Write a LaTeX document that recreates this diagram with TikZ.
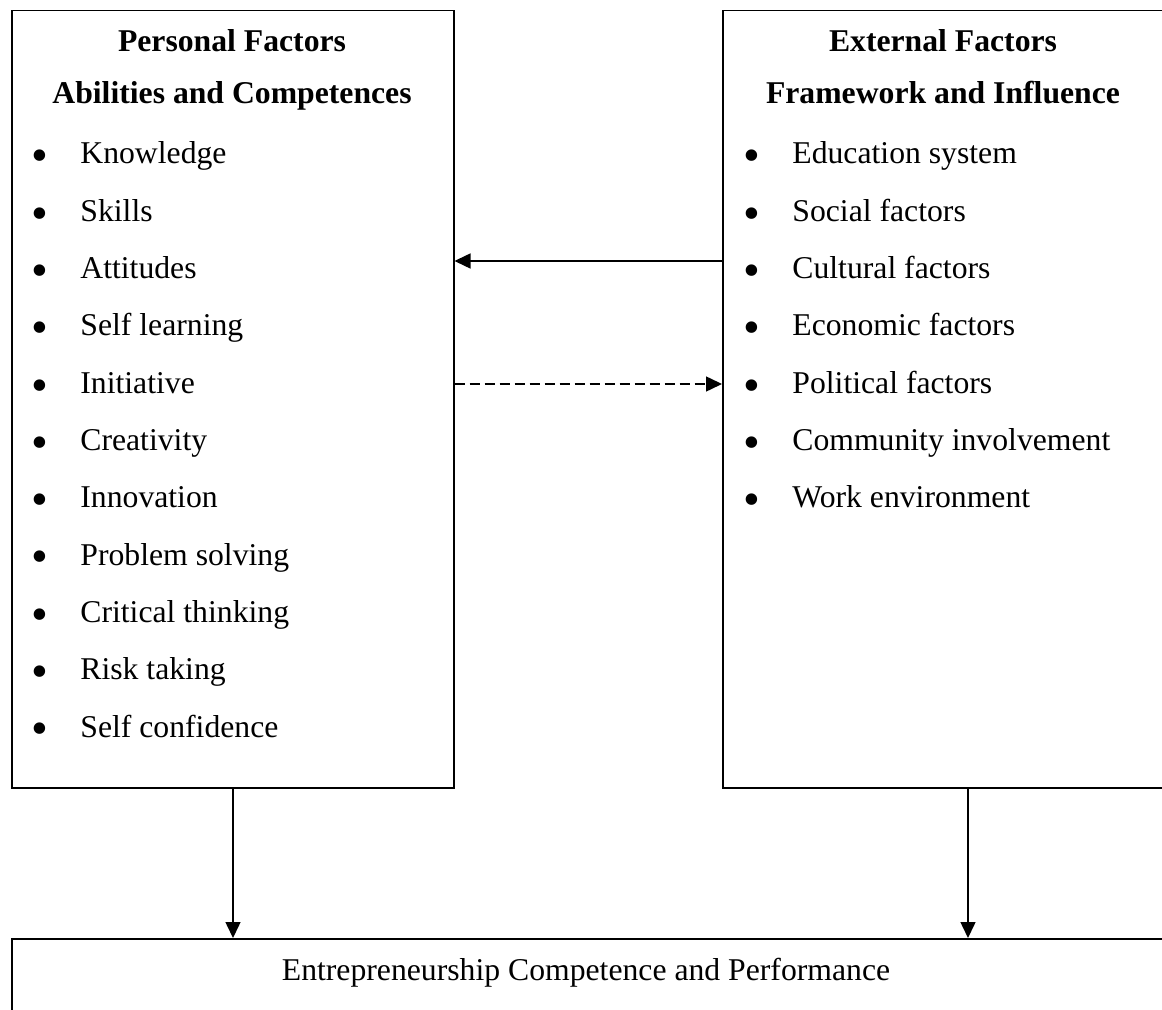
\documentclass[tikz,border=0pt]{standalone}
\usepackage{fontspec}
\setmainfont{Liberation Serif}
\usetikzlibrary{arrows.meta}
\begin{document}
\begin{tikzpicture}[x=0.5pt,y=-0.5pt,
  box/.style={draw,line width=0.75pt,inner sep=0pt,anchor=north west},
  txt/.style={font=\fontsize{15.85pt}{19pt}\selectfont,inner sep=0pt},
  hdr/.style={inner sep=0pt,font=\fontsize{15.85pt}{19pt}\selectfont\bfseries,anchor=base},
  item/.style={txt,anchor=base west},
  bul/.style={inner sep=0pt,font=\fontsize{24pt}{24pt}\selectfont,anchor=center},
  arr/.style={line width=0.75pt,-{Triangle[length=8pt,width=7.5pt]}},
  darr/.style={arr,dash pattern=on 5pt off 2.5pt},
]
\useasboundingbox (0,0) rectangle (1162,1010);
\clip (0,0) rectangle (1162,1010);
% boxes
\node[box,minimum width=221pt,minimum height=388.5pt] (L) at (11,10) {};
\node[box,minimum width=221pt,minimum height=388.5pt] (R) at (722,10) {};
\node[box,minimum width=580pt,minimum height=50pt] (B) at (11,938) {};
% headers
\node[hdr] (lh1) at (232,52) {Personal Factors};
\node[hdr] (lh2) at (232,104) {Abilities and Competences};
\node[hdr] (rh1) at (943,52) {External Factors};
\node[hdr] (rh2) at (943,104) {Framework and Influence};
% items
\foreach \t [count=\i from 0] in {Knowledge,Skills,Attitudes,Self learning,Initiative,Creativity,Innovation,Problem solving,Critical thinking,Risk taking,Self confidence}{
  \node[bul] (lb\i) at (40,{161+57.3*\i}) {\textbullet};
  \node[item] (li\i) at (80,{164+57.3*\i}) {\t};
}
\foreach \t [count=\i from 0] in {Education system,Social factors,Cultural factors,Economic factors,Political factors,Community involvement,Work environment}{
  \node[bul] (rb\i) at (752,{161+57.3*\i}) {\textbullet};
  \node[item] (ri\i) at (792,{164+57.3*\i}) {\t};
}
\node[txt,anchor=base] (bt) at (586,980) {Entrepreneurship Competence and Performance};
% connectors
\coordinate (ya) at (0,261);
\coordinate (yb) at (0,384);
\coordinate (xl) at (233,0);
\coordinate (xr) at (968,0);
\draw[arr] (R.west |- ya) -- (L.east |- ya);
\draw[darr] (L.east |- yb) -- (R.west |- yb);
\draw[arr] (L.south -| xl) -- (B.north -| xl);
\draw[arr] (R.south -| xr) -- (B.north -| xr);
\end{tikzpicture}
\end{document}
